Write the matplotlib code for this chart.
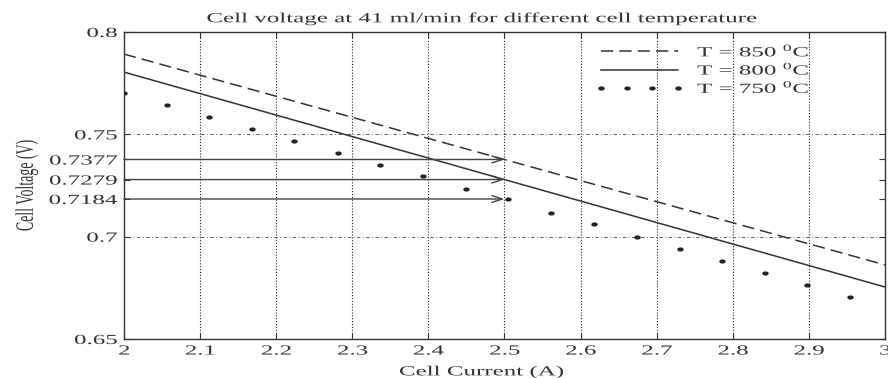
import matplotlib
matplotlib.use("Agg")
import matplotlib.pyplot as plt
from matplotlib.patheffects import AbstractPathEffect
from matplotlib.markers import MarkerStyle
from matplotlib.transforms import Affine2D

# Fitted polarisation lines (current in A, voltage in V)
current_line = [2.0, 3.0]
v_850 = [0.7892, 0.6862]
v_800 = [0.7804, 0.6754]

# Measured points at 750 degC
current_750 = [2.000, 2.056, 2.112, 2.168, 2.224, 2.281, 2.337, 2.393, 2.449,
               2.505, 2.561, 2.617, 2.674, 2.730, 2.786, 2.842, 2.898, 2.954]
v_750 = [0.7704, 0.7644, 0.7587, 0.7527, 0.7468, 0.7408, 0.7351, 0.7294, 0.7232,
         0.7184, 0.7118, 0.7061, 0.6999, 0.6939, 0.6882, 0.6822, 0.6763, 0.6705]

marked_current = 2.5
marked_voltages = [0.7377, 0.7279, 0.7184]

x_ticks = [2, 2.1, 2.2, 2.3, 2.4, 2.5, 2.6, 2.7, 2.8, 2.9, 3]
x_tick_labels = ["2", "2.1", "2.2", "2.3", "2.4", "2.5", "2.6", "2.7", "2.8", "2.9", "3"]
y_ticks = [0.65, 0.7, 0.7184, 0.7279, 0.7377, 0.75, 0.8]
y_tick_labels = ["0.65", "0.7", "0.7184", "0.7279", "0.7377", "0.75", "0.8"]
y_grid = [0.7, 0.75]

STRETCH = 1.8
INK = "#333333"


class WideText(AbstractPathEffect):
    """Draw text glyphs widened horizontally about a chosen anchor."""

    def __init__(self, sx=STRETCH, anchor="center"):
        super().__init__()
        self.sx = sx
        self.anchor = anchor

    def draw_path(self, renderer, gc, tpath, affine, rgbFace=None):
        verts = affine.transform(tpath.vertices)
        if len(verts) == 0:
            return
        x0, x1 = verts[:, 0].min(), verts[:, 0].max()
        ax0 = {"left": x0, "center": 0.5 * (x0 + x1), "right": x1}[self.anchor]
        tr = affine + Affine2D().translate(-ax0, 0).scale(self.sx, 1.0).translate(ax0, 0)
        renderer.draw_path(gc, tpath, tr, rgbFace)


plt.rcParams["font.family"] = ["Liberation Serif", "DejaVu Serif"]
plt.rcParams["mathtext.fontset"] = "custom"
plt.rcParams["mathtext.rm"] = "Liberation Serif"

FS = 10

fig = plt.figure(figsize=(8.88, 3.78), dpi=100)
ax = fig.add_axes([0.1396, 0.1032, 0.8570, 0.8122])

# grid
for x in x_ticks[1:-1]:
    ax.axvline(x, color="#222222", linestyle=(0, (1, 1.6)), linewidth=0.8, zorder=0)
for y in y_grid:
    ax.axhline(y, color="#444444", linestyle=(0, (1, 3, 4, 3)), linewidth=0.6, zorder=0)

ax.plot(current_line, v_850, color=INK, linestyle=(0, (8, 4)), linewidth=1.1,
        label=r"T = 850 $^{0}$C")
ax.plot(current_line, v_800, color=INK, linestyle="-", linewidth=1.1,
        label=r"T = 800 $^{0}$C")
dot = MarkerStyle("o", transform=Affine2D().scale(STRETCH, 1.0))
ax.plot(current_750, v_750, color="#222222", linestyle="none", marker=dot,
        markersize=2.0, label=r"T = 750 $^{0}$C")

for v in marked_voltages:
    ax.annotate("", xy=(marked_current, v), xytext=(2.0, v),
                arrowprops=dict(arrowstyle="->,head_length=1.0,head_width=0.33",
                                color="#444444", lw=1.0,
                                shrinkA=0, shrinkB=0, mutation_scale=7.5))

ax.set_xlim(2, 3)
ax.set_ylim(0.65, 0.8)
ax.set_xticks(x_ticks)
ax.set_xticklabels(x_tick_labels)
ax.set_yticks(y_ticks)
ax.set_yticklabels(y_tick_labels)
ax.tick_params(direction="in", length=4, labelsize=FS, colors=INK,
               top=True, right=True)
ax.tick_params(axis="x", pad=4)
ax.tick_params(axis="y", pad=5)
for s in ax.spines.values():
    s.set_color(INK)
    s.set_linewidth(1.0)

title = ax.set_title("Cell voltage at 41 ml/min for different cell temperature",
                     fontsize=FS, color=INK, x=0.47, pad=7)
title.set_path_effects([WideText(anchor="center")])

xl = ax.set_xlabel("Cell Current (A)", fontsize=FS, color=INK)
ax.xaxis.set_label_coords(0.4695, -0.085)
xl.set_path_effects([WideText(anchor="center")])

yl = ax.set_ylabel("Cell Voltage (V)", fontsize=FS, color=INK)
yl.set_verticalalignment("center")
ax.yaxis.set_label_coords(-0.128, 0.5)
yl.set_path_effects([WideText(anchor="center")])

leg = ax.legend(loc="upper left", bbox_to_anchor=(0.6216, 0.965), frameon=False,
                numpoints=4, handlelength=6.1, fontsize=FS, labelspacing=0.12,
                handletextpad=1.1, borderaxespad=0.0, borderpad=0.0)
for t in leg.get_texts():
    t.set_color(INK)
    t.set_path_effects([WideText(anchor="left")])

# tick label objects are final after a first draw
fig.canvas.draw()
for lbl in ax.xaxis.get_ticklabels(which="both"):
    lbl.set_path_effects([WideText(anchor="center")])
for lbl in ax.yaxis.get_ticklabels(which="both"):
    lbl.set_path_effects([WideText(anchor="right")])
for tk in ax.xaxis.get_major_ticks():
    tk.label1.set_path_effects([WideText(anchor="center")])
for tk in ax.yaxis.get_major_ticks():
    tk.label1.set_path_effects([WideText(anchor="right")])

fig.savefig("out.png", dpi=100)
